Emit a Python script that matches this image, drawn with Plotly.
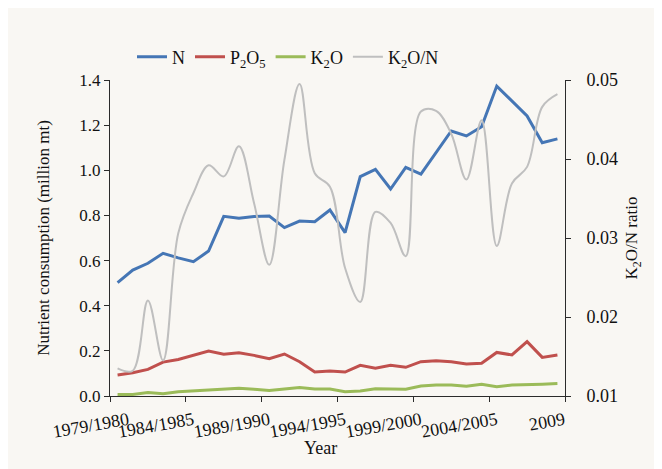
import plotly.graph_objects as go

years = [f"{y}/{y+1}" for y in range(1979, 2009)]

n_vals = [0.502, 0.558, 0.588, 0.632, 0.612, 0.595, 0.642, 0.796, 0.787, 0.795,
          0.797, 0.746, 0.775, 0.772, 0.824, 0.724, 0.972, 1.004, 0.917, 1.013,
          0.983, 1.080, 1.174, 1.152, 1.193, 1.373, 1.307, 1.241, 1.122, 1.139]
p2o5_vals = [0.093, 0.103, 0.118, 0.150, 0.162, 0.180, 0.199, 0.185, 0.192, 0.180,
             0.165, 0.186, 0.152, 0.106, 0.111, 0.106, 0.136, 0.123, 0.136, 0.127,
             0.152, 0.156, 0.152, 0.142, 0.145, 0.193, 0.182, 0.241, 0.171, 0.182]
k2o_vals = [0.007, 0.007, 0.015, 0.010, 0.019, 0.022, 0.027, 0.031, 0.034, 0.030,
            0.024, 0.031, 0.038, 0.031, 0.031, 0.019, 0.022, 0.032, 0.030, 0.030,
            0.044, 0.049, 0.049, 0.043, 0.052, 0.041, 0.049, 0.049, 0.052, 0.055]
ratio_vals = [0.0135, 0.0132, 0.0221, 0.0145, 0.0306, 0.0357, 0.0392, 0.0378, 0.0416, 0.0344,
              0.0266, 0.0399, 0.0495, 0.0382, 0.0365, 0.0262, 0.0219, 0.0333, 0.0319, 0.0277,
              0.0460, 0.0461, 0.0432, 0.0374, 0.0449, 0.0290, 0.0369, 0.0390, 0.0466, 0.0482]

tick_pos = [0.7, 5, 10, 15, 20, 25, 29.45]
tick_text = ["1979/1980", "1984/1985", "1989/1990", "1994/1995", "1999/2000", "2004/2005", "2009"]

x = list(range(len(years)))
FONT = "Liberation Serif, Times New Roman, serif"
AX = "#2b2b2b"

# page offset (default body margin) compensated
OFF = 8
W, H = 662, 469
L, T = 110 - OFF, 80 - OFF
PW, PH = 455, 316
R, B = W - L - PW, H - T - PH


def px(sx):
    return (sx - OFF - L) / PW


def py(sy):
    return (T + PH + OFF - sy) / PH


fig = go.Figure()
fig.add_trace(go.Scatter(x=x, y=n_vals, name="N", mode="lines",
                         line=dict(color="#4576b5", width=3), text=years))
fig.add_trace(go.Scatter(x=x, y=p2o5_vals, name="P<sub>2</sub>O<sub>5</sub>", mode="lines",
                         line=dict(color="#c0504d", width=3), text=years))
fig.add_trace(go.Scatter(x=x, y=k2o_vals, name="K<sub>2</sub>O", mode="lines",
                         line=dict(color="#9bbb59", width=3), text=years))
fig.add_trace(go.Scatter(x=x, y=ratio_vals, name="K<sub>2</sub>O/N", mode="lines",
                         line=dict(color="#bfbfbf", width=2, shape="spline", smoothing=1.0),
                         yaxis="y2", text=years))

fig.update_layout(
    width=W, height=H,
    margin=dict(l=L, r=R, t=T, b=B, autoexpand=False),
    paper_bgcolor="#f9f7f3", plot_bgcolor="#f9f7f3",
    font=dict(family=FONT, size=17, color="#111"),
    showlegend=True,
    legend=dict(orientation="h", x=px(132), y=py(57), xanchor="left", yanchor="middle",
                bgcolor="rgba(0,0,0,0)", font=dict(size=18), itemwidth=30,
                traceorder="normal"),
    xaxis=dict(range=[-0.5, 29.5], showgrid=False, zeroline=False,
               showline=True, linecolor=AX, linewidth=1,
               tickmode="array", tickvals=tick_pos, ticktext=tick_text,
               ticks="", tickangle=-10, tickfont=dict(size=18), ticklabelstandoff=6,
               minor=dict(tickmode="linear", tick0=-0.5, dtick=5, ticks="outside",
                          ticklen=5, tickcolor=AX, showgrid=False)),
    yaxis=dict(range=[0, 1.4], dtick=0.2, tickformat=".1f", showgrid=False, zeroline=False,
               showline=True, linecolor=AX, linewidth=1, ticks="outside", ticklen=5,
               tickcolor=AX, tickfont=dict(size=17),
               title=dict(text="Nutrient consumption (million mt)", font=dict(size=17), standoff=25)),
    yaxis2=dict(range=[0.01, 0.05], dtick=0.01, tickformat=".2f", overlaying="y", side="right",
                showgrid=False, zeroline=False, showline=True, linecolor=AX, linewidth=1,
                ticks="outside", ticklen=5, tickcolor=AX, tickfont=dict(size=18),
                ticklabelstandoff=12,
                title=dict(text="K<sub>2</sub>O/N ratio", font=dict(size=17), standoff=8)),
    annotations=[dict(text="Year", x=px(320), y=py(448),
                      xref="paper", yref="paper", yanchor="middle",
                      showarrow=False, font=dict(size=18))],
)

fig.write_html("out.html")
